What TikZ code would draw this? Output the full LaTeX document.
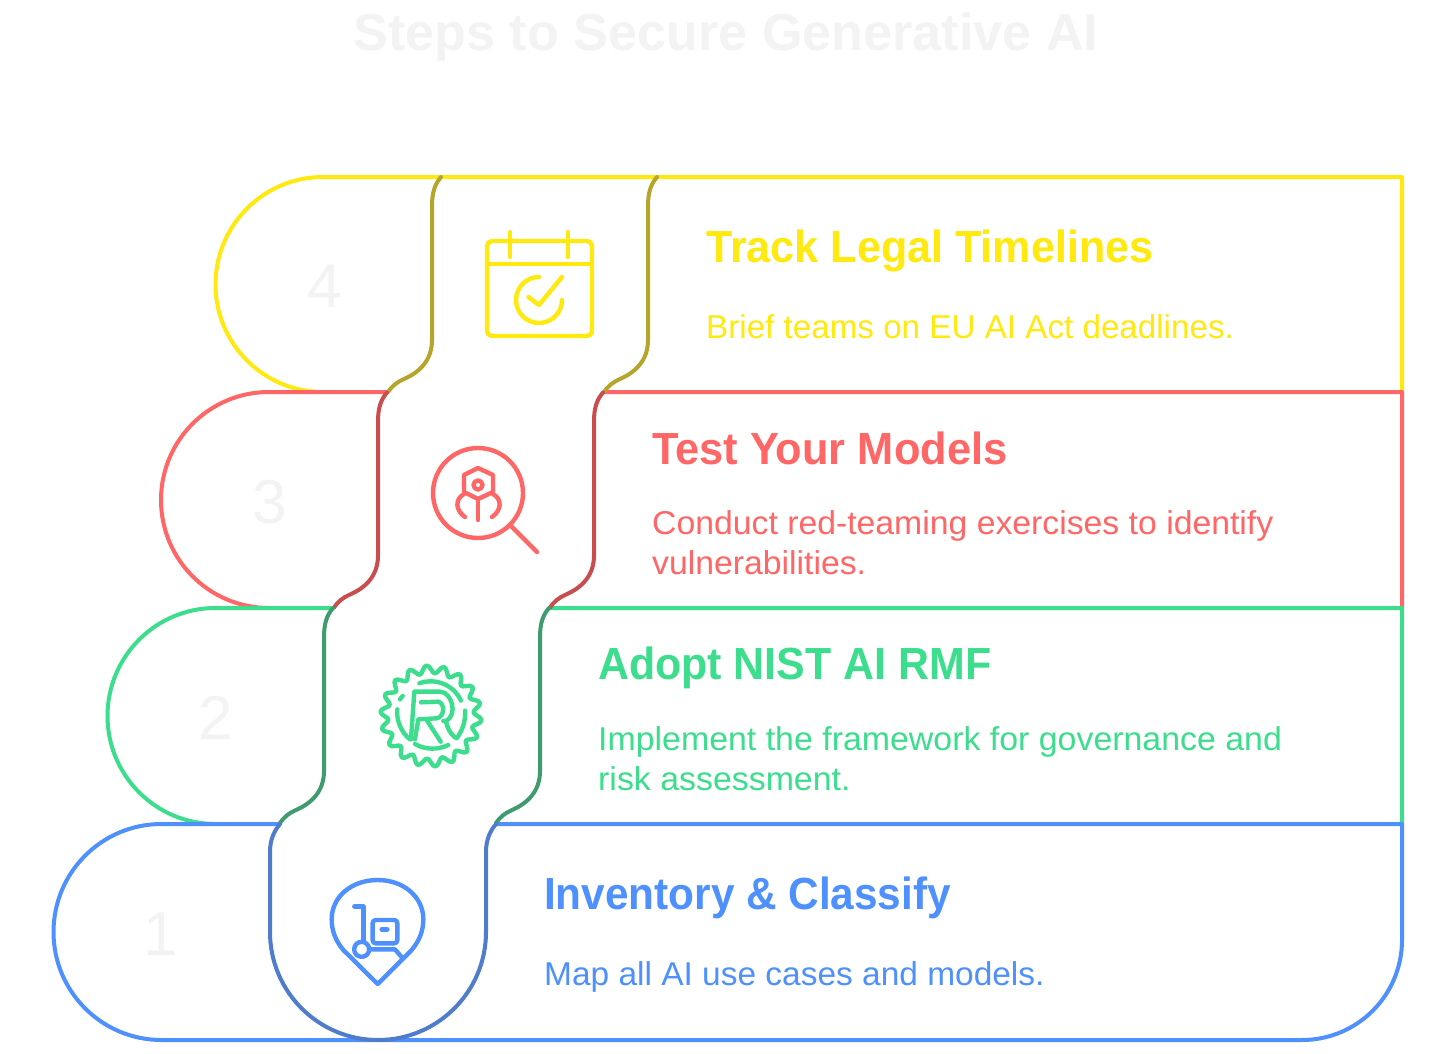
\documentclass[tikz,border=0pt]{standalone}
\usepackage{fontspec}
\setmainfont{Liberation Sans}
\definecolor{cy}{HTML}{FFE90F}
\definecolor{cr}{HTML}{FF6666}
\definecolor{cg}{HTML}{3CDD8C}
\definecolor{cb}{HTML}{4D90FE}
\definecolor{dy}{HTML}{B5A52A}
\definecolor{dr}{HTML}{C94D4D}
\definecolor{dg}{HTML}{3F9C6E}
\definecolor{db}{HTML}{4F7CCB}
\definecolor{ghost}{HTML}{F3F3F3}
\tikzset{
  band/.style={line width=4pt,fill=white,line join=round},
  seam/.style={line width=4pt,line cap=round},
  icon/.style={line width=4.4pt,line cap=round,line join=round},
  numtext/.style={text=ghost,font=\fontsize{62}{62}\selectfont,inner sep=0pt},
  headtext/.style={anchor=base west,inner sep=0pt,font=\fontsize{45}{48}\selectfont\bfseries},
  bodytext/.style={anchor=base west,inner sep=0pt,font=\fontsize{33}{40}\selectfont},
}
\newcommand{\sx}[2]{\scalebox{#1}[1]{#2}}
\newcommand{\twolines}[3]{\scalebox{#1}[1]{\begin{tabular}[t]{@{}l@{}}#2\\#3\end{tabular}}}
% #1 = x offset, #2 = y offset, #3 = colour : S-shaped seam pair of a band
\newcommand{\seampair}[3]{%
  \foreach \dx in {0,216}{
    \draw[seam,#3,shift={(#1+\dx,#2)}] (441,177) .. controls (435,184) and (432,192) .. (432,206)
      -- (432,340) .. controls (432,360) and (420,372) .. (404,379) .. controls (397,382) and (392,386) .. (388,392);
  }}
\begin{document}
\begin{tikzpicture}[x=1pt,y=-1pt]
\useasboundingbox (0,0) rectangle (1456,1054);
\fill[white] (0,0) rectangle (1456,1054);
\node[inner sep=0pt,text=ghost,font=\fontsize{52}{52}\selectfont\bfseries] (title) at (726,37) {\sx{1.003}{Steps to Secure Generative AI}};

% bands
\draw[band,draw=cy] (323,177) -- (1402,177) -- (1402,392) -- (323,392) arc[start angle=90,end angle=270,radius=107.5] -- cycle;
\draw[band,draw=cr] (269,392) -- (1402,392) -- (1402,608) -- (269,608) arc[start angle=90,end angle=270,radius=108] -- cycle;
\draw[band,draw=cg] (215.5,608) -- (1402,608) -- (1402,824) -- (215.5,824) arc[start angle=90,end angle=270,radius=108] -- cycle;
\draw[band,draw=cb] (161.5,824) -- (1402,824) -- (1402,940) arc[start angle=0,end angle=90,radius=100] -- (161.5,1040) arc[start angle=90,end angle=270,radius=108] -- cycle;

% openings of the central column
\fill[white] (388,389) rectangle (604,395);
\fill[white] (334,605) rectangle (550,611);
\fill[white] (280,821) rectangle (496,827);

% seams
\seampair{0}{0}{dy}
\seampair{-54}{215.5}{dr}
\seampair{-108}{431}{dg}
\foreach \dx in {0,216}{
  \draw[seam,db,shift={(\dx,0)}] (280,824) .. controls (274,831) and (270,840) .. (270,852) -- (270,932);
}
\draw[seam,db] (270,932) arc[start angle=180,end angle=0,radius=108];

% numbers
\node[numtext] (n4) at (324.5,286) {4};
\node[numtext] (n3) at (269.5,502) {3};
\node[numtext] (n2) at (215.5,718) {2};
\node[numtext] (n1) at (161,934) {1};

% texts
\node[headtext,text=cy] (h4) at (706,262) {\sx{0.958}{Track Legal Timelines}};
\node[bodytext,text=cy] (b4) at (706,338) {\sx{1.006}{Brief teams on EU AI Act deadlines.}};
\node[headtext,text=cr] (h3) at (652,464) {\sx{0.964}{Test Your Models}};
\node[bodytext,text=cr] (b3) at (652,534) {\twolines{1.023}{Conduct red-teaming exercises to identify}{vulnerabilities.}};
\node[headtext,text=cg] (h2) at (598,679) {\sx{0.953}{Adopt NIST AI RMF}};
\node[bodytext,text=cg] (b2) at (598,750) {\twolines{1.027}{Implement the framework for governance and}{risk assessment.}};
\node[headtext,text=cb] (h1) at (544,909) {\sx{0.94}{Inventory \& Classify}};
\node[bodytext,text=cb] (b1) at (544,985) {\sx{1.014}{Map all AI use cases and models.}};

% calendar icon
\begin{scope}[icon,cy]
\draw[rounded corners=5pt] (487,241) rectangle (592,336);
\draw (487,264) -- (592,264);
\draw (510,232) -- (510,257);
\draw (568,232) -- (568,257);
\draw (539,277) arc[start angle=270,end angle=0,radius=23];
\draw (528.5,297) -- (539,305) -- (562,277);
\end{scope}

% search icon
\begin{scope}[icon,cr]
\draw (478,493) circle[radius=45];
\draw (512,527) -- (537,552);
\draw (478,468) -- (493,475) -- (493,492) -- (478,499) -- (464,492) -- (464,475) -- cycle;
\draw (478,485) circle[radius=4.5];
\draw (478,499) -- (478,520);
\draw (464,494) .. controls (455,499) and (455,510) .. (465,517);
\draw (493,494) .. controls (502,499) and (502,510) .. (492,517);
\end{scope}

% gear icon
\begin{scope}[icon,cg,shift={(360,640)},x=0.3333pt,y=-0.3333pt]
\draw plot[smooth cycle,domain=0:357.5,samples=144] ({213+140*cos(\x)+12*cos(\x)*cos(18*\x-90)},{228+140*sin(\x)+12*sin(\x)*cos(18*\x-90)});
\draw (178,130) arc[start angle=-110,end angle=-25,radius=100];
\draw (315,212) .. controls (318,245) and (305,275) .. (290,295) .. controls (280,290) and (265,275) .. (258,245);
\draw (120,178) -- (128,168);
\draw (112,208) .. controls (108,240) and (125,280) .. (150,298);
\draw (165,312) .. controls (195,330) and (235,330) .. (265,315);
\draw (153,298) -- (163,155) -- (240,155) .. controls (275,155) and (295,225) .. (258,243) -- (250,243);
\draw (183,187) -- (235,185) .. controls (255,190) and (255,230) .. (230,235) -- (175,238) -- (165,298);
\draw (200,240) -- (242,305);
\end{scope}

% pin icon
\begin{scope}[icon,cb,shift={(310,860)},x=0.3333pt,y=-0.3333pt]
\draw (203,372) -- (100,270) .. controls (75,240) and (65,210) .. (65,178) .. controls (65,110) and (125,60) .. (203,60) .. controls (280,60) and (340,110) .. (340,178) .. controls (340,210) and (330,240) .. (305,270) -- cycle;
\draw (133,140) -- (160,140) -- (160,245);
\draw (155,268) circle[radius=7.5pt];
\draw (177,268) -- (255,268) -- (278,295);
\draw[rounded corners=3pt] (188,180) rectangle (262,250);
\draw (215,208) -- (232,208);
\end{scope}
\end{tikzpicture}
\end{document}
